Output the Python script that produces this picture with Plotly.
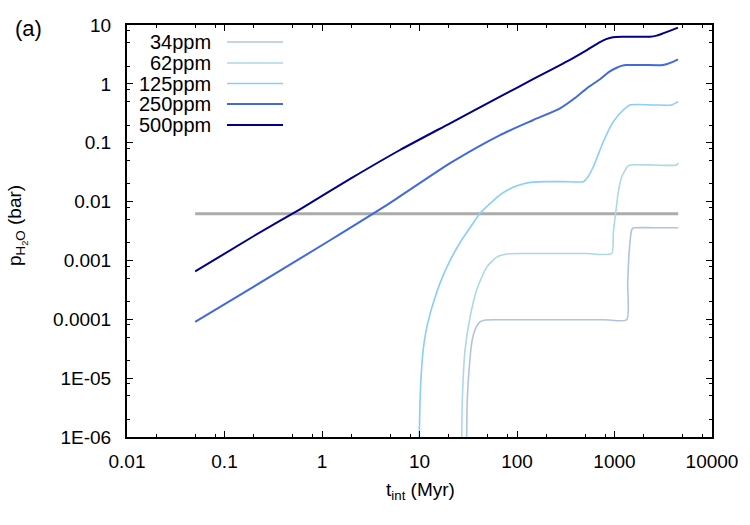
import plotly.graph_objects as go

# ---------------- data ----------------
labels = ["34ppm", "62ppm", "125ppm", "250ppm", "500ppm"]
colors = ["#b0c4de", "#add8e6", "#87cefa", "#4169e1", "#00008b"]

t_34 = [30.3, 30.9, 32.4, 34.3, 37.1, 41.7, 47, 60, 200, 800, 1334, 1365, 1418, 1500, 1560, 1622, 2500, 4510]
p_34 = [5e-7, 4.3e-6, 1.55e-5, 3.95e-5, 6.6e-5, 9.0e-5, 9.7e-5, 9.8e-5, 9.8e-5, 9.8e-5, 9.8e-5, 4.1e-4, 1.5e-3, 3.3e-3, 3.55e-3, 3.6e-3, 3.6e-3, 3.6e-3]

t_62 = [27.0, 27.5, 29.3, 33.0, 38.6, 48.9, 61.9, 78.4, 120, 500, 935, 972, 1028, 1094, 1185, 1282, 1360, 1442, 2500, 4340, 4510]
p_62 = [5e-7, 4.3e-6, 3.0e-5, 1.09e-4, 3.15e-4, 7.7e-4, 1.14e-3, 1.29e-3, 1.31e-3, 1.31e-3, 1.31e-3, 2.9e-3, 6.4e-3, 0.0145, 0.0262, 0.0340, 0.0395, 0.0418, 0.0418, 0.0418, 0.0457]

t_125 = [9.8, 10.1, 10.4, 10.9, 11.6, 12.6, 14.0, 16.5, 20.6, 26, 33, 42, 55, 67, 82, 100, 120, 146, 200, 300, 479, 530, 607, 767, 973, 1230, 1442, 2500, 3850, 4510]
p_125 = [3e-7, 3.5e-6, 1.1e-5, 3.0e-5, 6.0e-5, 1.1e-4, 2.0e-4, 4.4e-4, 1.0e-3, 2.0e-3, 3.6e-3, 6.4e-3, 0.0098, 0.013, 0.016, 0.0185, 0.0203, 0.0214, 0.0218, 0.0218, 0.0218, 0.026, 0.039, 0.104, 0.228, 0.36, 0.438, 0.438, 0.438, 0.498]

t_250 = [0.05, 0.2, 1.21, 5, 20.6, 67, 147, 276, 409, 540, 710, 880, 1052, 1180, 1330, 2000, 3140, 3800, 4480]
p_250 = [9.0e-5, 3.6e-4, 2.2e-3, 0.0095, 0.045, 0.135, 0.243, 0.384, 0.605, 0.88, 1.2, 1.6, 1.88, 2.02, 2.09, 2.09, 2.09, 2.3, 2.61]

t_500 = [0.05, 0.2, 0.594, 2, 6.31, 20.6, 67, 146, 218, 326, 500, 710, 820, 966, 1200, 1550, 2310, 2700, 3140, 3800, 4480]
p_500 = [6.5e-4, 2.6e-3, 7.4e-3, 0.025, 0.0752, 0.214, 0.605, 1.2, 1.7, 2.4, 3.6, 5.13, 5.75, 6.2, 6.32, 6.33, 6.33, 6.6, 7.2, 8.1, 9.0]

t_ref = [0.05, 4500]
p_ref = [0.0062, 0.0062]

x_tickvals = [0.01, 0.1, 1, 10, 100, 1000, 10000]
x_ticktext = ["0.01", "0.1", "1", "10", "100", "1000", "10000"]
y_tickvals = [1e-6, 1e-5, 1e-4, 1e-3, 1e-2, 1e-1, 1, 10]
y_ticktext = ["1E-06", "1E-05", "0.0001", "0.001", "0.01", "0.1", "1", "10"]

series_t = [t_34, t_62, t_125, t_250, t_500]
series_p = [p_34, p_62, p_125, p_250, p_500]
widths = [1.6, 1.6, 1.6, 2.0, 2.0]

# ---------------- figure ----------------
FONT = "Liberation Sans, Arial, sans-serif"
W, H = 750, 525
L, R, T, B = 127, 38, 25, 88
PW, PH = W - L - R, H - T - B


def fx(px):
    return (px - L) / PW


def fy(py):
    return (H - B - py) / PH


fig = go.Figure()
fig.add_trace(go.Scatter(x=t_ref, y=p_ref, mode="lines",
                         line=dict(color="#ababab", width=3), showlegend=False,
                         hoverinfo="skip"))
for t, p, c, w, name in zip(series_t, series_p, colors, widths, labels):
    fig.add_trace(go.Scatter(x=t, y=p, mode="lines", name=name,
                             line=dict(color=c, width=w, shape="spline", smoothing=0.6),
                             showlegend=False))

minor_x = [m * 10 ** e for e in range(-2, 4) for m in (2, 5, 8)]
minor_y = [m * 10 ** e for e in range(-6, 1) for m in (2, 5, 8)]

axis_common = dict(type="log", showgrid=False, zeroline=False, showline=True,
                   linecolor="black", linewidth=2, mirror="allticks",
                   ticks="inside", ticklen=6, tickwidth=1, tickcolor="black",
                   tickfont=dict(family=FONT, size=19, color="black"),
                   automargin=False)

fig.update_xaxes(range=[-2, 4], tickvals=x_tickvals, ticktext=x_ticktext,
                 ticklabelstandoff=6,
                 minor=dict(tickvals=minor_x, ticks="inside", ticklen=3,
                            tickwidth=1, tickcolor="black", showgrid=False),
                 **axis_common)
fig.update_yaxes(range=[-6, 1], tickvals=y_tickvals, ticktext=y_ticktext,
                 ticklabelstandoff=10,
                 minor=dict(tickvals=minor_y, ticks="inside", ticklen=3,
                            tickwidth=1, tickcolor="black", showgrid=False),
                 **axis_common)

annotations = []
shapes = []
rows_py = [42, 63, 83.5, 104, 125]
for name, c, w, py in zip(labels, colors, widths, rows_py):
    annotations.append(dict(x=fx(213), y=fy(py), xref="paper", yref="paper",
                            text=name, showarrow=False, xanchor="right",
                            yanchor="middle",
                            font=dict(family=FONT, size=20, color="black")))
    shapes.append(dict(type="line", xref="paper", yref="paper",
                       x0=fx(227), x1=fx(283), y0=fy(py), y1=fy(py),
                       line=dict(color=c, width=w)))

annotations.append(dict(x=fx(420), y=fy(491), xref="paper", yref="paper",
                        text="t<sub>int</sub> (Myr)", showarrow=False,
                        xanchor="center", yanchor="middle",
                        font=dict(family=FONT, size=19, color="black")))
annotations.append(dict(x=fx(17), y=fy(226), xref="paper", yref="paper",
                        text="p<sub>H<sub>2</sub>O</sub> (bar)", showarrow=False,
                        xanchor="center", yanchor="middle", textangle=-90,
                        font=dict(family=FONT, size=19, color="black")))
annotations.append(dict(x=fx(28), y=fy(28), xref="paper", yref="paper",
                        text="(a)", showarrow=False,
                        xanchor="center", yanchor="middle",
                        font=dict(family=FONT, size=22, color="black")))

fig.update_layout(width=W, height=H, margin=dict(l=L, r=R, t=T, b=B),
                  paper_bgcolor="white", plot_bgcolor="white",
                  showlegend=False, annotations=annotations, shapes=shapes)

fig.write_html("out.html")
